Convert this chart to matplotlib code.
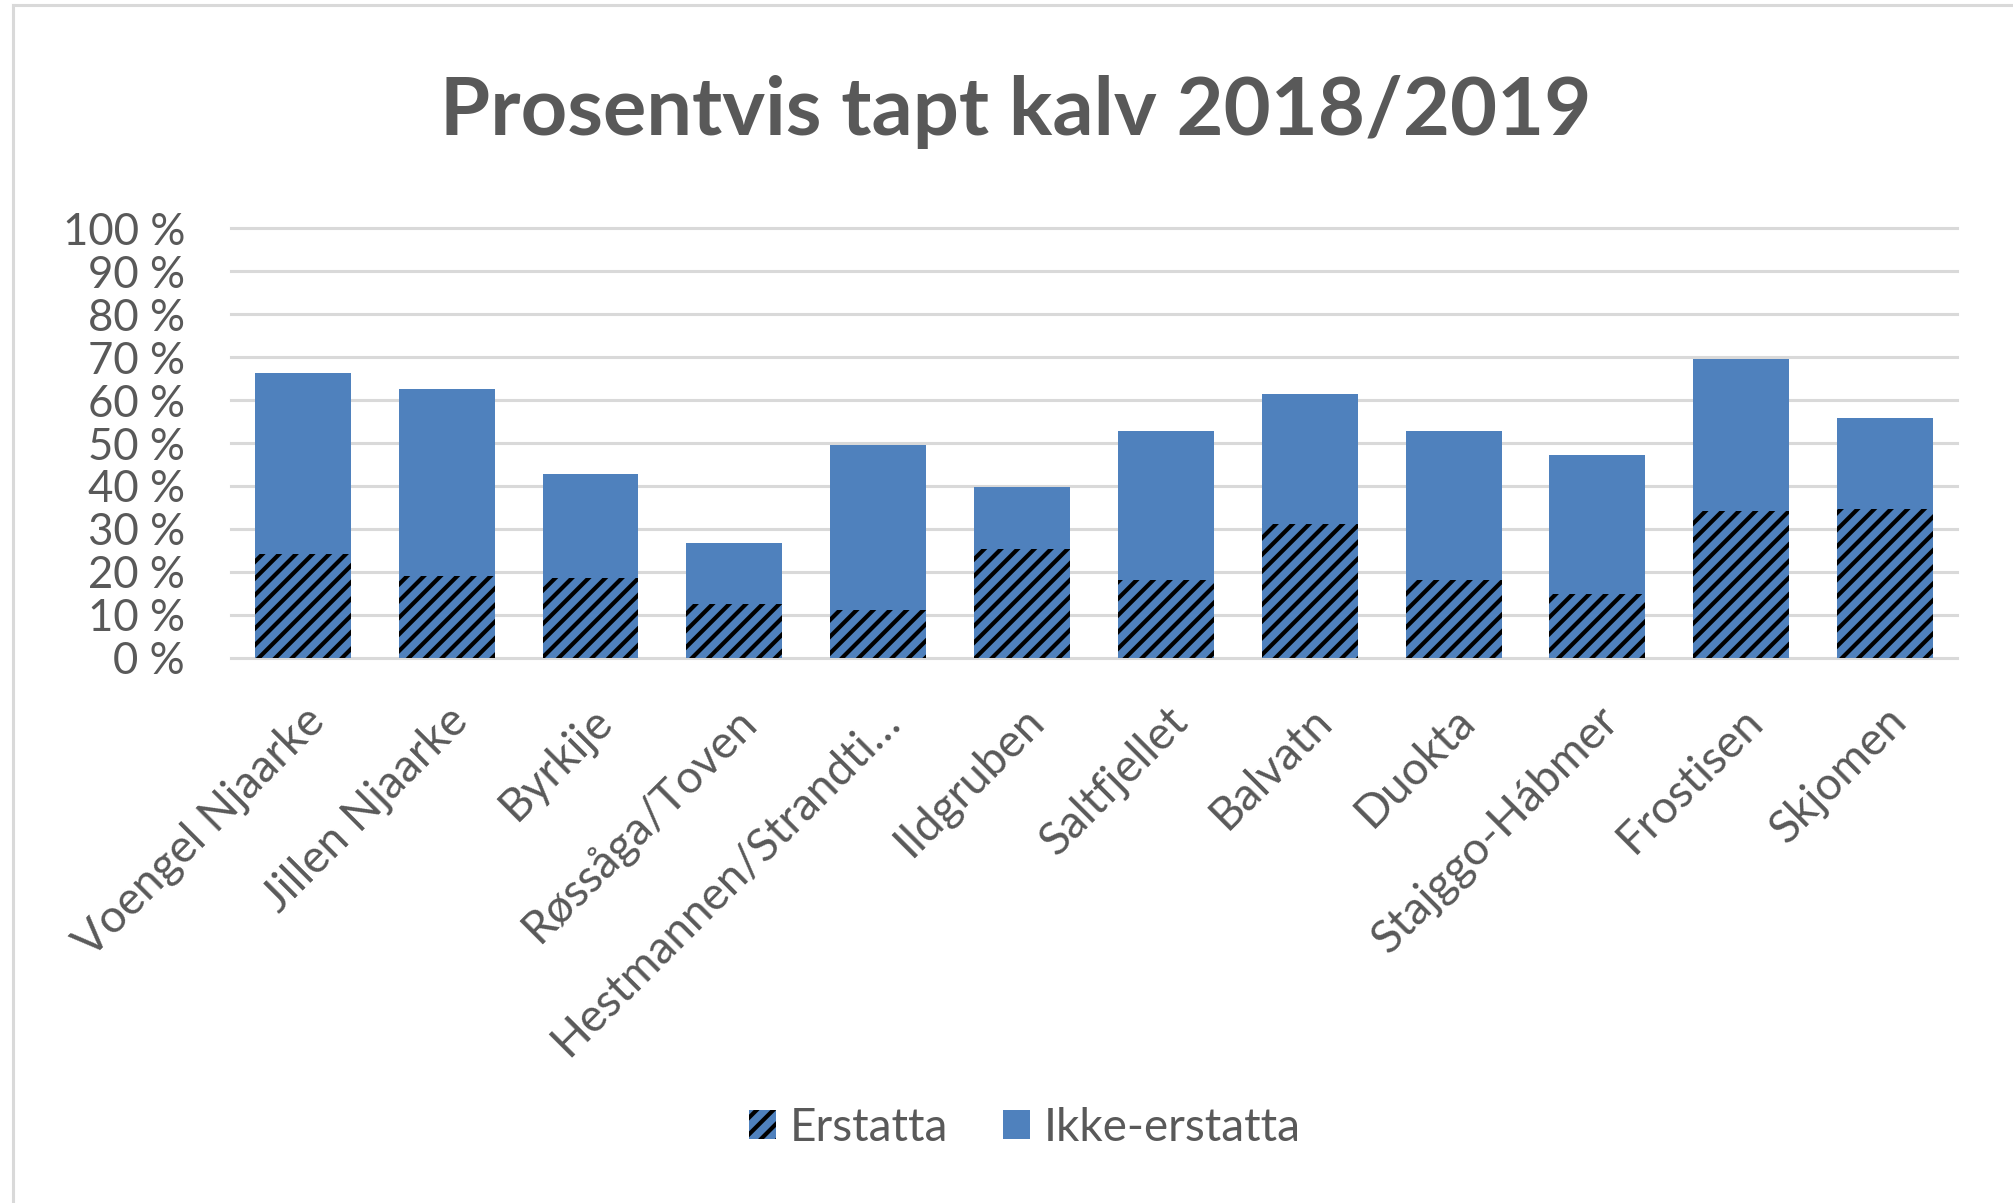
# Prosentvis tapt kalv 2018/2019 - stacked bar chart

from matplotlib import pyplot as plt
from matplotlib.lines import Line2D
import numpy as np

plt.rcParams['font.family'] = ['Lato', 'DejaVu Sans']
plt.rcParams['hatch.linewidth'] = 3.0

# grazing districts
omrader = ['Voengel Njaarke', 'Jillen Njaarke', 'Byrkije', 'Røssåga/Toven',
           'Hestmannen/Strandti…', 'Ildgruben', 'Saltfjellet', 'Balvatn',
           'Duokta', 'Stajggo-Hábmer', 'Frostisen', 'Skjomen']

# share of calves lost (fraction)
erstatta = [0.241, 0.191, 0.186, 0.124, 0.112, 0.253,
            0.180, 0.311, 0.180, 0.148, 0.342, 0.347]
ikke_erstatta = [0.423, 0.435, 0.242, 0.142, 0.383, 0.144,
                 0.348, 0.304, 0.348, 0.323, 0.353, 0.211]

y_ticks = [0, 0.1, 0.2, 0.3, 0.4, 0.5, 0.6, 0.7, 0.8, 0.9, 1.0]
y_labels = ['0 %', '10 %', '20 %', '30 %', '40 %', '50 %',
            '60 %', '70 %', '80 %', '90 %', '100 %']

blue = '#4f81bd'
grey = '#595959'
light = '#d9d9d9'

fig = plt.figure(figsize=(20.13, 12.03), dpi=100)
ax = fig.add_axes([0.1147, 0.4533, 0.8575, 0.3569])

x = np.arange(len(omrader))
width = 0.667

ax.bar(x, erstatta, width=width, color=blue, edgecolor='black',
       linewidth=0, hatch='//', label='Erstatta')
ax.bar(x, ikke_erstatta, width=width, bottom=erstatta, color=blue,
       linewidth=0, label='Ikke-erstatta')

ax.set_xlim(-0.5, len(omrader) - 0.5)
ax.set_ylim(0, 1)
ax.set_yticks(y_ticks, y_labels)
ax.set_xticks(x, omrader, rotation=45, ha='right', va='top',
              rotation_mode='anchor')

ax.tick_params(axis='y', length=0, pad=33, labelsize=31.5, labelcolor=grey)
ax.tick_params(axis='x', length=0, pad=30, labelsize=33, labelcolor=grey)

for s in ax.spines.values():
    s.set_visible(False)

ax.set_axisbelow(True)
ax.yaxis.grid(True, color=light, linewidth=2.2)
ax.xaxis.grid(False)
for gl in ax.get_ygridlines():
    gl.set_clip_on(False)

fig.text(0.5047, 1 - 135 / 1203, 'Prosentvis tapt kalv 2018/2019',
         ha='center', va='baseline', fontsize=58.5, fontweight='bold', color=grey)

fig.legend(loc='center', bbox_to_anchor=(0.509, 0.0623), ncol=2,
           frameon=False, fontsize=33, labelcolor=grey,
           handlelength=0.59, handleheight=0.59, handletextpad=0.3,
           columnspacing=1.2)

# chart area border (top and left only visible)
fig.add_artist(Line2D([13 / 2013, 13 / 2013], [0, 1 - 5 / 1203],
                      transform=fig.transFigure, color=light, linewidth=2.2))
fig.add_artist(Line2D([13 / 2013, 1], [1 - 5 / 1203, 1 - 5 / 1203],
                      transform=fig.transFigure, color=light, linewidth=2.2))

fig.savefig('out.png', dpi=100)
